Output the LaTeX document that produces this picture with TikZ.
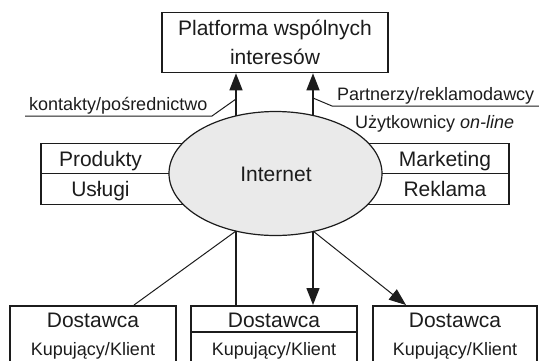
\documentclass[tikz,border=0pt]{standalone}
\usepackage{fontspec}
\setmainfont{Liberation Sans}
\usetikzlibrary{arrows.meta,shapes.geometric}
\definecolor{cloudfill}{RGB}{234,234,234}
\definecolor{ink}{RGB}{28,28,28}

\begin{document}
\begin{tikzpicture}[x=1pt,y=-1pt,
  frame/.style={draw=ink,line width=1.6pt,inner sep=0pt},
  big/.style={font=\fontsize{21}{29}\selectfont,text=ink,inner sep=0pt},
  small/.style={font=\fontsize{18}{22}\selectfont,text=ink,inner sep=0pt},
  leader/.style={draw=ink,line width=1pt},
  shaft/.style={draw=ink,line width=1.4pt},
  tip/.style={-{Triangle[length=17pt,width=13pt]}},
]
\useasboundingbox (0,0) rectangle (539,360);
\clip (0,0) rectangle (539,360);

% platform box
\node[frame,big,minimum width=226pt,minimum height=60pt,align=center] (plat) at (275,42.5)
  {Platforma wspólnych\\interesów};

% band with products / marketing
\node[frame,minimum width=468pt,minimum height=61pt] (band) at (275,173.8) {};
\draw[draw=ink,line width=1.2pt] (band.west) -- (band.east);

% Internet ellipse
\node[ellipse,draw=ink,line width=1.2pt,fill=cloudfill,minimum width=213pt,minimum height=124pt,inner sep=0pt] (net) at (275.5,173.5) {};
\node[big,anchor=base] (nettext) at (276,181) {Internet};

\node[big,anchor=base] (prod) at (100.5,166.5) {Produkty};
\node[big,anchor=base] (usl)  at (100.5,196.5) {Usługi};
\node[big,anchor=base] (mark) at (445,166.5) {Marketing};
\node[big,anchor=base] (rekl) at (445,196.5) {Reklama};

% lower boxes
\node[frame,minimum width=166pt,minimum height=90pt,anchor=north] (b1) at (93,305) {};
\node[frame,minimum width=166pt,minimum height=90pt,anchor=north] (b2) at (274,305) {};
\node[frame,minimum width=164pt,minimum height=90pt,anchor=north] (b3) at (455,305) {};
\draw[draw=ink,line width=1.2pt] (b2.west |- 0,332) -- (b2.east |- 0,332);

\foreach \b/\x in {b1/93,b2/274,b3/455}{
  \node[big,anchor=base] (\b top) at (\x,327.5) {Dostawca};
  \node[small,anchor=base] (\b bot) at (\x,355) {Kupujący/Klient};
}

% connection points on the ellipse
\coordinate (tl) at (236,115.5);
\coordinate (tr) at (313,115.5);
\coordinate (bl) at (236,231);
\coordinate (br) at (313,231);
\coordinate (b1in) at (134,305);
\coordinate (b3in) at (406,305);

% arrows up to the platform
\draw[shaft,tip] (tl) -- (tl |- plat.south);
\draw[shaft,tip] (tr) -- (tr |- plat.south);

% arrows and lines down to the boxes
\draw[leader] (bl) -- (b1in);
\draw[shaft,line width=1.2pt] (bl) -- (bl |- b2.north);
\draw[shaft,tip] (br) -- (br |- b2.north);
\draw[leader,tip] (br) -- (b3in);

% labels with leader lines
\node[small,anchor=base west] (kont) at (29,110) {kontakty/pośrednictwo};
\coordinate (kl) at (25,116);
\coordinate (km) at (212,116);
\coordinate (ka) at (236,99);
\draw[leader] (kl) -- (km) -- (ka);

\node[small,anchor=base west] (partn) at (337,100) {Partnerzy/reklamodawcy};
\coordinate (pa) at (313,98);
\coordinate (pm) at (332,106);
\coordinate (pr) at (539,106);
\draw[leader] (pa) -- (pm) -- (pr);

\node[small,anchor=base west] (uzyt) at (355,128) {Użytkownicy \textit{on-line}};
\end{tikzpicture}
\end{document}
